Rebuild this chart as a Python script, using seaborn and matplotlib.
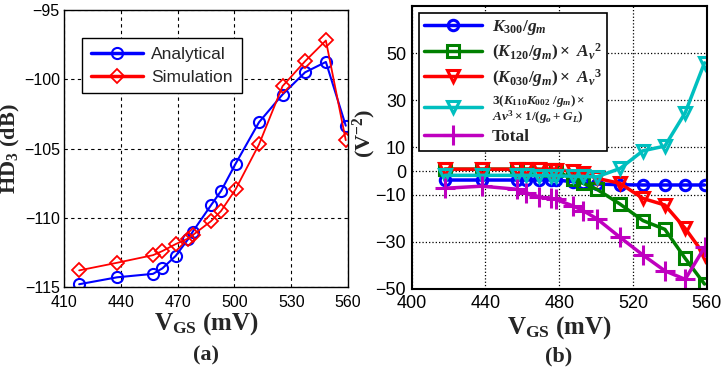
import numpy as np
import pandas as pd
import matplotlib
matplotlib.use("Agg")
import matplotlib.pyplot as plt
import seaborn as sns

# ---------------- data ----------------
vgs = [418, 438, 457, 462, 469, 475.5, 478, 487.6, 493, 500.6, 513, 525.4, 537.3, 548.3, 558.8]

hd3_analytical = [-114.8, -114.3, -114.05, -113.65, -112.75, -111.55, -111.0, -109.1,
                  -108.05, -106.1, -103.1, -101.1, -99.5, -98.75, -103.35]
hd3_simulation = [-113.8, -113.25, -112.7, -112.4, -111.9, -111.5, -111.25, -110.25,
                  -109.5, -107.95, -104.7, -100.5, -98.7, -97.2, -104.4]

k300 = [-3.8, -3.8, -3.8, -3.8, -3.8, -3.8, -3.8, -4.5, -5.0, -5.5, -5.8, -5.9, -5.9, -5.9, -5.9]
k120 = [0.8, 0.8, 0.8, 0.8, 0.8, 0.5, 0.3, -3.5, -5.2, -7.8, -14.0, -21.0, -24.7, -37.0, -47.9]
k030 = [0.8, 0.8, 0.8, 0.8, 0.7, 0.6, 0.5, 0.0, -0.8, -3.1, -5.2, -11.6, -14.4, -24.3, -35.6]
k110 = [-1.8, -1.8, -1.8, -1.8, -1.9, -2.0, -2.0, -2.2, -2.3, -2.4, 1.1, 8.6, 10.6, 24.7, 45.9]
total = [-7.3, -6.4, -7.7, -9.2, -10.9, -11.6, -12.0, -14.8, -16.8, -20.3, -28.1, -35.6,
         -42.3, -45.9, -32.4]

left_xticks = [410, 440, 470, 500, 530, 560]
left_yticks = [-115, -110, -105, -100, -95]
right_xticks = [400, 440, 480, 520, 560]
right_yticks = [-50, -30, -10, 0, 10, 30, 50]

left_labels = ["Analytical", "Simulation"]
right_labels = [r"$\mathit{K_{300}/g_m}$",
                r"$\mathit{(K_{120}/g_m)}\times\ \mathit{A_v}^{\mathit{2}}$",
                r"$\mathit{(K_{030}/g_m)}\times\ \mathit{A_v}^{\mathit{3}}$",
                "$\\mathit{3(K_{110}K_{002}\\ /g_m)}\\times$\n$\\mathit{Av^3}\\times\\mathit{1/(g_o+G_L)}$",
                "Total"]

# ---------------- style ----------------
sns.set_style("white")
plt.rcParams["font.family"] = ["Liberation Sans", "DejaVu Sans"]
plt.rcParams["mathtext.fontset"] = "custom"
plt.rcParams["mathtext.rm"] = "Liberation Serif:bold"
plt.rcParams["mathtext.it"] = "Liberation Serif:italic:bold"
plt.rcParams["mathtext.bf"] = "Liberation Serif:bold"

fig = plt.figure(figsize=(7.21, 3.74), dpi=100)
ax1 = fig.add_axes([0.0888, 0.2326, 0.3939, 0.7406])
ax2 = fig.add_axes([0.571, 0.2273, 0.4092, 0.7567])

serif_bold = dict(family="Liberation Serif", weight="bold")

# ---------------- left panel ----------------
dfl = pd.DataFrame({"vgs": vgs, "Analytical": hd3_analytical, "Simulation": hd3_simulation})
sns.lineplot(data=dfl, x="vgs", y="Analytical", ax=ax1, color="#0000FF", marker="o",
             markersize=8, markerfacecolor="none", markeredgecolor="#0000FF",
             markeredgewidth=1.5, linewidth=1.5, label=left_labels[0], estimator=None)
sns.lineplot(data=dfl, x="vgs", y="Simulation", ax=ax1, color="#FF0000", marker="D",
             markersize=7, markerfacecolor="none", markeredgecolor="#FF0000",
             markeredgewidth=1.3, linewidth=1.3, label=left_labels[1], estimator=None)
ax1.set_xlim(410, 560)
ax1.set_ylim(-115, -95)
ax1.set_xticks(left_xticks)
ax1.set_yticks(left_yticks)
ax1.grid(True, linestyle="--", color="black", linewidth=0.8, dashes=(3, 3))
ax1.tick_params(direction="in", length=4, labelsize=11.5, colors="black")
ax1.tick_params(axis="x", pad=6)
ax1.tick_params(axis="y", pad=3)
for s in ax1.spines.values():
    s.set_color("black")
    s.set_linewidth(1.0)
ax1.set_xlabel(r"V$_{\mathbf{GS}}$ (mV)", fontsize=18, labelpad=0, **serif_bold)
ax1.set_ylabel(r"HD$_3$ (dB)", fontsize=16, **serif_bold)
ax1.yaxis.set_label_coords(-0.148, 0.5)
leg1 = ax1.legend(loc="upper left", bbox_to_anchor=(0.063, 0.899), borderaxespad=0,
                  fontsize=12.5, frameon=True, fancybox=False, edgecolor="black",
                  framealpha=1, handlelength=3.0, labelspacing=0.45, borderpad=0.5,
                  handletextpad=0.5)
leg1.get_frame().set_linewidth(1.0)
for h in leg1.legend_handles:
    h.set_linewidth(2.5)

# ---------------- right panel ----------------
dfr = pd.DataFrame({"vgs": vgs, "k300": k300, "k120": k120, "k030": k030,
                    "k110": k110, "total": total})
specs = [("k300", "#0000FF", "o", 7.5), ("k120", "#008000", "s", 8),
         ("k030", "#FF0000", "v", 9), ("k110", "#00BFBF", "v", 9),
         ("total", "#BF00BF", "+", 15)]
for (col, c, m, ms), lab in zip(specs, right_labels):
    sns.lineplot(data=dfr, x="vgs", y=col, ax=ax2, color=c, marker=m, markersize=ms,
                 markerfacecolor="none", markeredgecolor=c, markeredgewidth=2.2,
                 linewidth=2.5, label=lab, estimator=None)
ax2.set_xlim(400, 560)
ax2.set_ylim(-50, 70)
ax2.set_xticks(right_xticks)
ax2.set_yticks(right_yticks)
ax2.grid(True, linestyle=":", color="black", linewidth=0.9)
ax2.tick_params(direction="in", length=4, labelsize=13, colors="black", pad=4)
for s in ax2.spines.values():
    s.set_color("black")
    s.set_linewidth(1.5)
ax2.set_xlabel(r"V$_{\mathbf{GS}}$ (mV)", fontsize=18, labelpad=2, **serif_bold)
ax2.set_ylabel(r"(V$^{-2}$)", fontsize=16, **serif_bold)
ax2.yaxis.set_label_coords(-0.115, 0.55)
leg2 = ax2.legend(loc="upper left", bbox_to_anchor=(0.025, 0.975), borderaxespad=0,
                  fontsize=12.5, frameon=True, fancybox=False, edgecolor="black",
                  framealpha=1, handlelength=3.3, labelspacing=0.22, borderpad=0.3,
                  handletextpad=0.6)
leg2.get_frame().set_linewidth(1.2)
for t in leg2.get_texts():
    t.set_fontweight("bold")
    t.set_family("Liberation Serif")
leg2.get_texts()[3].set_fontsize(9.5)
leg2.get_texts()[3].set_linespacing(0.95)

fig.text(206 / 721, 1 - 355 / 374, "(a)", ha="center", va="center", fontsize=16, **serif_bold)
fig.text(559 / 721, 1 - 356 / 374, "(b)", ha="center", va="center", fontsize=16, **serif_bold)

fig.savefig("out.png", dpi=100)
